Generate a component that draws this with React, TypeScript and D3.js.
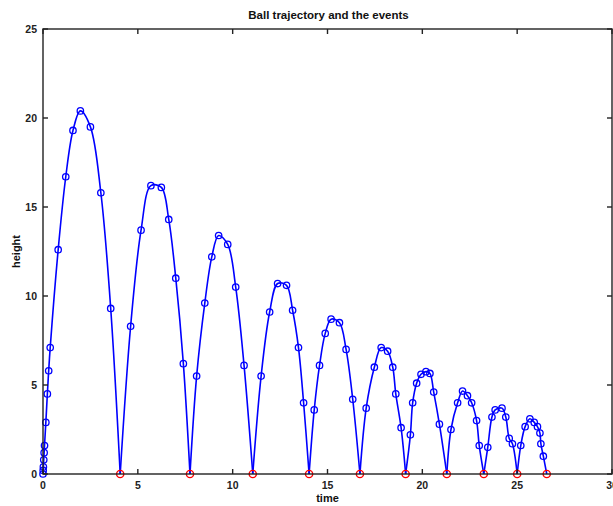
import React from "react";
import * as d3 from "d3";

// Trajectory samples (time, height)
const sampleT = [
  0, 0.01, 0.02, 0.04, 0.06, 0.08, 0.15, 0.23, 0.3, 0.38, 0.8, 1.2, 1.58, 1.97, 2.5, 3.05, 3.57,
  4.62, 5.17, 5.69, 6.24, 6.63, 7.0, 7.4,
  8.1, 8.53, 8.9, 9.26, 9.74, 10.16, 10.6,
  11.5, 11.95, 12.37, 12.84, 13.16, 13.47, 13.74,
  14.3, 14.58, 14.88, 15.19, 15.63, 15.98, 16.33,
  17.04, 17.47, 17.83, 18.17, 18.44, 18.6, 18.88,
  19.37, 19.49, 19.7, 19.93, 20.19, 20.4, 20.6, 20.9,
  21.51, 21.86, 22.12, 22.38, 22.6, 22.86, 23.0,
  23.45, 23.67, 23.84, 24.2, 24.4, 24.58, 24.75,
  25.19, 25.42, 25.67, 25.9, 26.07, 26.2, 26.25, 26.38,
];
const sampleH = [
  0, 0.2, 0.4, 0.8, 1.2, 1.6, 2.9, 4.5, 5.8, 7.1, 12.6, 16.7, 19.3, 20.4, 19.5, 15.8, 9.3,
  8.3, 13.7, 16.2, 16.1, 14.3, 11.0, 6.2,
  5.5, 9.6, 12.2, 13.4, 12.9, 10.5, 6.1,
  5.5, 9.1, 10.7, 10.6, 9.2, 7.1, 4.0,
  3.6, 6.1, 7.9, 8.7, 8.5, 7.0, 4.2,
  3.7, 6.0, 7.1, 6.9, 6.0, 4.5, 2.6,
  2.2, 4.0, 5.1, 5.6, 5.75, 5.65, 4.6, 2.8,
  2.5, 4.0, 4.66, 4.4, 4.0, 3.0, 1.6,
  1.5, 3.2, 3.6, 3.7, 3.2, 2.0, 1.7,
  1.6, 2.66, 3.1, 2.9, 2.66, 2.3, 1.7, 1.0,
];
// Events: times where the ball hits the ground
const eventT = [4.07, 7.75, 11.06, 14.03, 16.71, 19.12, 21.29, 23.24, 25.0, 26.56];
const eventH = [0, 0, 0, 0, 0, 0, 0, 0, 0, 0];

const xTicks = [0, 5, 10, 15, 20, 25, 30];
const yTicks = [0, 5, 10, 15, 20, 25];

const W = 613;
const H = 506;
const L = 43, R = 612, T = 29, B = 474;

export default function App() {
  const x = d3.scaleLinear().domain([0, 30]).range([L, R]);
  const y = d3.scaleLinear().domain([0, 25]).range([B, T]);

  const pts = sampleT.map((t, i) => ({ t, h: sampleH[i] }));
  const bounds = [0, ...eventT];
  const segs: { t: number; h: number }[][] = [];
  for (let k = 0; k < eventT.length; k++) {
    const a = bounds[k], b = bounds[k + 1];
    const inner = pts.filter((p) => p.t > a && p.t < b);
    const seg = [{ t: a, h: k === 0 ? pts[0].h : 0 }, ...inner, { t: b, h: eventH[k] }];
    segs.push(seg);
  }
  const line = d3
    .line<{ t: number; h: number }>()
    .x((d) => x(d.t))
    .y((d) => y(d.h))
    .curve(d3.curveCatmullRom.alpha(0.5));

  const font = "'Liberation Sans', Arial, Helvetica, sans-serif";
  const tick = 5;

  return (
    <svg
      width={W}
      height={H}
      style={{ position: "absolute", left: 0, top: 0, background: "#fff" }}
      fontFamily={font}
    >
      <rect x={0} y={0} width={W} height={H} fill="#fff" />
      {segs.map((s, i) => (
        <path key={i} d={line(s) || ""} fill="none" stroke="#0000ff" strokeWidth={1.6} />
      ))}
      {pts.map((p, i) => (
        <circle key={i} cx={x(p.t)} cy={y(p.h)} r={3.2} fill="none" stroke="#0000ff" strokeWidth={1.3} />
      ))}
      {eventT.map((t, i) => (
        <circle key={"e" + i} cx={x(t)} cy={y(eventH[i])} r={3.6} fill="none" stroke="#ff0000" strokeWidth={1.4} />
      ))}
      <rect x={L} y={T} width={R - L} height={B - T} fill="none" stroke="#222" strokeWidth={1.4} />
      {xTicks.map((v) => (
        <g key={"x" + v}>
          <line x1={x(v)} x2={x(v)} y1={B} y2={B - tick} stroke="#222" strokeWidth={1.4} />
          <line x1={x(v)} x2={x(v)} y1={T} y2={T + tick} stroke="#222" strokeWidth={1.4} />
          <text x={x(v)} y={B + 15} textAnchor="middle" fontSize={10.5} fontWeight="bold" fill="#222">
            {v}
          </text>
        </g>
      ))}
      {yTicks.map((v) => (
        <g key={"y" + v}>
          <line x1={L} x2={L + tick} y1={y(v)} y2={y(v)} stroke="#222" strokeWidth={1.4} />
          <line x1={R} x2={R - tick} y1={y(v)} y2={y(v)} stroke="#222" strokeWidth={1.4} />
          <text x={L - 6} y={y(v) + 4} textAnchor="end" fontSize={10.5} fontWeight="bold" fill="#222">
            {v}
          </text>
        </g>
      ))}
      <text x={(L + R) / 2 + 1} y={19} textAnchor="middle" fontSize={11.5} fontWeight="bold" fill="#111">
        Ball trajectory and the events
      </text>
      <text x={(L + R) / 2} y={B + 28} textAnchor="middle" fontSize={11} fontWeight="bold" fill="#111">
        time
      </text>
      <text
        transform={`translate(${20},${(T + B) / 2}) rotate(-90)`}
        textAnchor="middle"
        fontSize={11}
        fontWeight="bold"
        fill="#111"
      >
        height
      </text>
    </svg>
  );
}
